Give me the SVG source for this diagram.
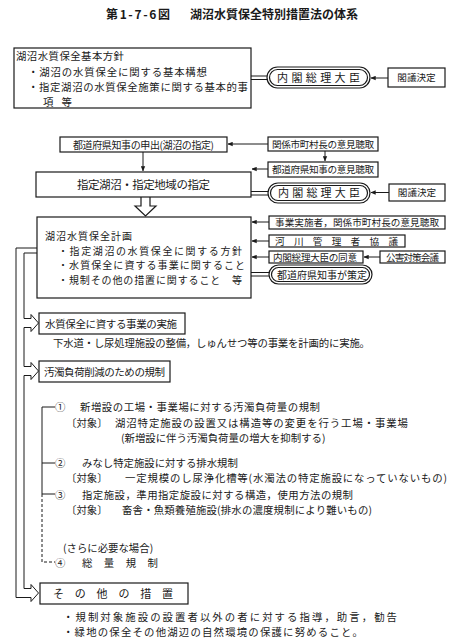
<svg xmlns="http://www.w3.org/2000/svg" width="459" height="641" viewBox="0 0 459 641">
<style>
.t{font-family:"Noto Sans CJK JP","Noto Sans CJK SC",sans-serif;font-size:10.4px;fill:#1a1a1a}
.s{font-size:9.6px}
.m{font-size:10px}
.c{text-anchor:middle}
.b{fill:#fff;stroke:#1a1a1a;stroke-width:1.2}
.ln{fill:none;stroke:#1a1a1a;stroke-width:1}
.ar{fill:none;stroke:#1a1a1a;stroke-width:1;marker-end:url(#ah)}
.dl{fill:none;stroke:#1a1a1a;stroke-width:1;stroke-dasharray:3,2}
.title{font-family:"Noto Sans CJK JP",sans-serif;font-size:12px;font-weight:bold;fill:#1a1a1a}
</style>
<defs>
<marker id="ah" viewBox="0 0 8 8" refX="7.5" refY="4" markerWidth="5" markerHeight="5" orient="auto">
<path d="M0,0.5 L8,4 L0,7.5 Z" fill="#1a1a1a"/>
</marker>
</defs>
<rect width="459" height="641" fill="#fff"/>
<g id="title">
<text class="title" x="106" y="19" textLength="64">第1-7-6図</text>
<text class="title" x="190" y="19" textLength="168">湖沼水質保全特別措置法の体系</text>
</g>
<g id="connectors">
<line class="ln" x1="251" y1="76" x2="267" y2="76"/>
<line class="ln" x1="251" y1="79.5" x2="267" y2="79.5"/>
<line class="ar" x1="388" y1="78" x2="371" y2="78"/>
<line class="ar" x1="268" y1="144" x2="228" y2="144"/>
<line class="ar" x1="325" y1="151" x2="325" y2="161"/>
<line class="ar" x1="268" y1="169" x2="252" y2="169"/>
<line class="ar" x1="143" y1="152" x2="143" y2="171"/>
<line class="ln" x1="251" y1="191.5" x2="268" y2="191.5"/>
<line class="ln" x1="251" y1="195" x2="268" y2="195"/>
<line class="ar" x1="389" y1="192.5" x2="371" y2="192.5"/>
<path class="b" d="M141,197 V206 H135 L145.5,216 L156,206 H150 V197"/>
<line class="ar" x1="269" y1="222" x2="252" y2="222"/>
<line class="ar" x1="269" y1="241" x2="252" y2="241"/>
<line class="ar" x1="269" y1="257" x2="252" y2="257"/>
<line class="ar" x1="380" y1="257" x2="364" y2="257"/>
<line class="ln" x1="251" y1="272.5" x2="269" y2="272.5"/>
<line class="ln" x1="251" y1="276" x2="269" y2="276"/>
<path class="ln" d="M37,253 H24 V318.5 H31 V314.5 L38.5,323 L31,331.5 V327.5 H24 V366.5 H31 V362.5 L38.5,371 L31,379.5 V375.5 H24 V588.5 H31 V584.5 L38.5,593 L31,601.5 V597.5 H16 V248 H37"/>
<path class="ln" d="M55,407 H42 V494 H55 M42,463 H55"/>
<path class="dl" d="M42,494 V562 H55"/>
</g>
<g id="n-houshin">
<rect class="b" x="14" y="48" width="237" height="60"/>
<text class="t" x="16" y="60" textLength="108">湖沼水質保全基本方針</text>
<text class="t" x="28" y="75.5" textLength="179">・湖沼の水質保全に関する基本構想</text>
<text class="t" x="28" y="90.5" textLength="220">・指定湖沼の水質保全施策に関する基本的事</text>
<text class="t" x="43" y="105.5" textLength="29">項　等</text>
</g>
<g id="n-naikaku1">
<rect class="b" x="267" y="67" width="103" height="21" rx="10.5"/>
<rect class="b" x="269.5" y="69.5" width="98" height="16" rx="8"/>
<text class="t" x="277" y="82" style="font-size:11px" textLength="83">内閣総理大臣</text>
</g>
<g id="n-kakugi1">
<rect class="b" x="388" y="68" width="57" height="19"/>
<text class="t s c" x="416.5" y="81">閣議決定</text>
</g>
<g id="n-moushide">
<rect class="b" x="60" y="137" width="167" height="15"/>
<text class="t c m" x="143.5" y="148.5" textLength="141">都道府県知事の申出(湖沼の指定)</text>
</g>
<g id="n-shichoson">
<rect class="b" x="268" y="137" width="110" height="14"/>
<text class="t s c" x="323" y="147.5" textLength="102">関係市町村長の意見聴取</text>
</g>
<g id="n-chiji">
<rect class="b" x="268" y="162" width="110" height="15"/>
<text class="t s c" x="323" y="173" textLength="102">都道府県知事の意見聴取</text>
</g>
<g id="n-shitei">
<rect class="b" x="36" y="172" width="215" height="25"/>
<text class="t" x="77" y="189" style="font-size:11.5px" textLength="133">指定湖沼・指定地域の指定</text>
</g>
<g id="n-naikaku2">
<rect class="b" x="268" y="183" width="102" height="20" rx="10"/>
<rect class="b" x="270.5" y="185.5" width="97" height="15" rx="7.5"/>
<text class="t" x="278" y="197" style="font-size:11px" textLength="82">内閣総理大臣</text>
</g>
<g id="n-kakugi2">
<rect class="b" x="389" y="184" width="56" height="17"/>
<text class="t s c" x="417" y="196">閣議決定</text>
</g>
<g id="n-keikaku">
<rect class="b" x="37" y="217" width="214" height="81"/>
<text class="t m" x="45" y="240" textLength="87">湖沼水質保全計画</text>
<text class="t m" x="58" y="254.5" textLength="184">・指定湖沼の水質保全に関する方針</text>
<text class="t m" x="58" y="269" textLength="187">・水質保全に資する事業に関すること</text>
<text class="t m" x="58" y="283.5" textLength="184">・規制その他の措置に関すること　等</text>
</g>
<g id="n-jigyo">
<rect class="b" x="269" y="216" width="176" height="13"/>
<text class="t s" x="275" y="226" textLength="164">事業実施者，関係市町村長の意見聴取</text>
</g>
<g id="n-kasen">
<rect class="b" x="269" y="235" width="136" height="12"/>
<text class="t s" x="275" y="245" textLength="123">河川管理者協議</text>
</g>
<g id="n-doui">
<rect class="b" x="269" y="251" width="94" height="12"/>
<text class="t s" x="273" y="261" textLength="84">内閣総理大臣の同意</text>
</g>
<g id="n-kougai">
<rect class="b" x="380" y="251" width="65" height="12"/>
<text class="t s" x="386" y="261" textLength="53">公害対策会議</text>
</g>
<g id="n-sakutei">
<rect class="b" x="269" y="265" width="103" height="19" rx="9.5"/>
<rect class="b" x="271.5" y="267.5" width="98" height="14" rx="7"/>
<text class="t m" x="277" y="278.5" textLength="90">都道府県知事が策定</text>
</g>
<g id="n-jisshi">
<rect class="b" x="39" y="313" width="146" height="21"/>
<text class="t" x="45" y="327.5" style="font-size:10.5px" textLength="132">水質保全に資する事業の実施</text>
<text class="t" x="53" y="346.5" textLength="317">下水道・し尿処理施設の整備，しゅんせつ等の事業を計画的に実施。</text>
</g>
<g id="n-kisei">
<rect class="b" x="39" y="361" width="131" height="21"/>
<text class="t" x="44" y="375.5" style="font-size:10.5px" textLength="121">汚濁負荷削減のための規制</text>
<text class="t" x="55" y="411">①</text>
<text class="t" x="80" y="411" textLength="240">新増設の工場・事業場に対する汚濁負荷量の規制</text>
<text class="t" x="66" y="426.5">〔対象〕</text>
<text class="t" x="115" y="426.5" textLength="293">湖沼特定施設の設置又は構造等の変更を行う工場・事業場</text>
<text class="t" x="121" y="441.5">(新増設に伴う汚濁負荷量の増大を抑制する)</text>
<text class="t" x="55" y="466.5">②</text>
<text class="t" x="82" y="466.5">みなし特定施設に対する排水規制</text>
<text class="t" x="66" y="481.5">〔対象〕</text>
<text class="t" x="125" y="481.5" textLength="322">一定規模のし尿浄化槽等(水濁法の特定施設になっていないもの)</text>
<text class="t" x="55" y="499">③</text>
<text class="t" x="82" y="499" textLength="271">指定施設，準用指定旋設に対する構造，使用方法の規制</text>
<text class="t" x="66" y="514">〔対象〕</text>
<text class="t" x="122" y="514" textLength="250">畜舎・魚類養殖施設(排水の濃度規制により難いもの)</text>
<text class="t" x="63" y="552">(さらに必要な場合)</text>
<text class="t" x="55" y="567">④</text>
<text class="t" x="82" y="567" textLength="76">総量規制</text>
</g>
<g id="n-sonota">
<rect class="b" x="40" y="583" width="148" height="21"/>
<text class="t" x="53" y="597.5" style="font-size:11px" textLength="120">その他の措置</text>
<text class="t" x="63" y="621" textLength="334">・規制対象施設の設置者以外の者に対する指導，助言，勧告</text>
<text class="t" x="63" y="635.5" textLength="300">・緑地の保全その他湖辺の自然環境の保護に努めること。</text>
</g>
</svg>
